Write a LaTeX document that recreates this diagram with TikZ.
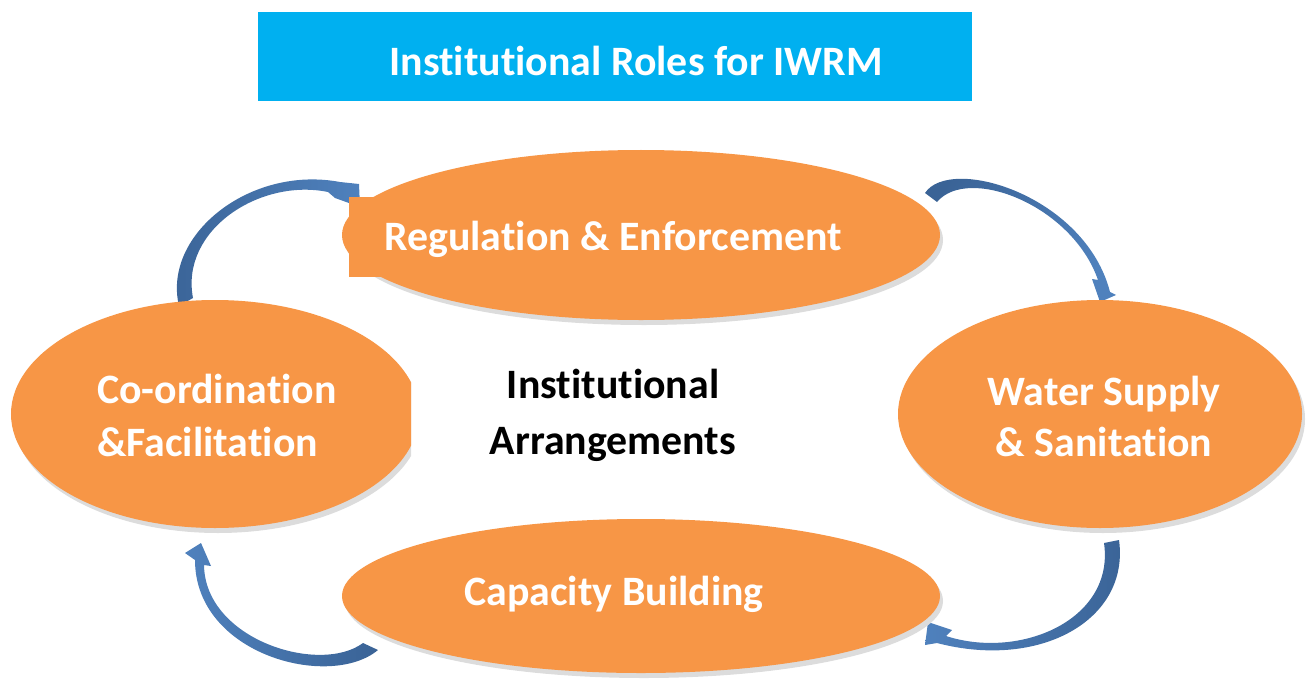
\documentclass[tikz,border=0pt]{standalone}
\usepackage{fontspec}
\setmainfont{Carlito}[Ligatures=NoCommon]
\usetikzlibrary{shapes.geometric}
\definecolor{orng}{HTML}{F79646}
\definecolor{ttl}{HTML}{00B0F0}
\definecolor{bdark}{HTML}{3A6396}
\definecolor{blight}{HTML}{4F81BD}
\definecolor{shd}{HTML}{DCDCDC}
\tikzset{
  lbl/.style={font=\fontsize{42}{54}\selectfont\bfseries, text=white, inner sep=0pt, anchor=base},
  ctr/.style={font=\fontsize{42}{54}\selectfont\bfseries, text=black, inner sep=0pt, anchor=base},
  blob/.style={fill=orng},
  blobshadow/.style={fill=shd},
}
\begin{document}
\begin{tikzpicture}[x=1bp,y=-1bp]
\useasboundingbox (0,0) rectangle (1310,679);
% title
\fill[ttl] (258,12) rectangle (972,101);
\node[lbl] (title) at (636,76) {Institutional Roles for IWRM};
% arrows
\shade[left color=bdark, right color=blight]
  (179,306) .. controls (162,235) and (250,165) .. (340,182)
  -- (359,184) -- (360,207) -- (335,198) -- (328,192)
  .. controls (260,178) and (180,230) .. (193,298) -- cycle;
\shade[left color=bdark, right color=blight, shading angle=60]
  (925,193) .. controls (950,155) and (1085,195) .. (1110,292)
  -- (1116,295) -- (1100,302) -- (1092,279) -- (1098,280)
  .. controls (1072,205) and (968,165) .. (937,202) -- cycle;
\shade[left color=blight, right color=bdark]
  (1119,540) .. controls (1130,620) and (1040,670) .. (937,643)
  -- (925,645) -- (928,622) -- (952,630) -- (946,636)
  .. controls (1020,660) and (1115,620) .. (1104,543) -- cycle;
\shade[left color=blight, right color=bdark]
  (378,650) .. controls (330,690) and (195,655) .. (195,560)
  -- (185,553) -- (201,543) -- (211,566) -- (204,565)
  .. controls (205,640) and (320,675) .. (363,643) -- cycle;
% top ellipse
\fill[blobshadow] (644,240) ellipse [x radius=299bp, y radius=85bp];
\fill[blob] (641,235) ellipse [x radius=299bp, y radius=85bp];
\fill[blob] (349,197) rectangle (500,277);
\node[lbl] (reg) at (613,250) {Regulation \& Enforcement};
% left ellipse
\begin{scope}
\clip (0,280) rectangle (411,560);
\fill[blobshadow] (218,419) ellipse [x radius=204bp, y radius=114bp];
\fill[blob] (215,414) ellipse [x radius=204bp, y radius=114bp];
\end{scope}
\node[lbl, anchor=base west] (coord1) at (97,403) {Co-ordination};
\node[lbl, anchor=base west] (coord2) at (97,456) {\&Facilitation};
% right ellipse
\fill[blobshadow] (1103,419) ellipse [x radius=202bp, y radius=114bp];
\fill[blob] (1100,414) ellipse [x radius=202bp, y radius=114bp];
\node[lbl] (ws1) at (1104,405) {Water Supply};
\node[lbl] (ws2) at (1104,456) {\& Sanitation};
% bottom ellipse
\fill[blobshadow] (644,601) ellipse [x radius=299bp, y radius=77bp];
\fill[blob] (641,596) ellipse [x radius=299bp, y radius=77bp];
\node[lbl] (cap) at (614,605) {Capacity Building};
% center text
\node[ctr] (ia1) at (613,398) {Institutional};
\node[ctr] (ia2) at (613,454) {Arrangements};
\end{tikzpicture}
\end{document}
